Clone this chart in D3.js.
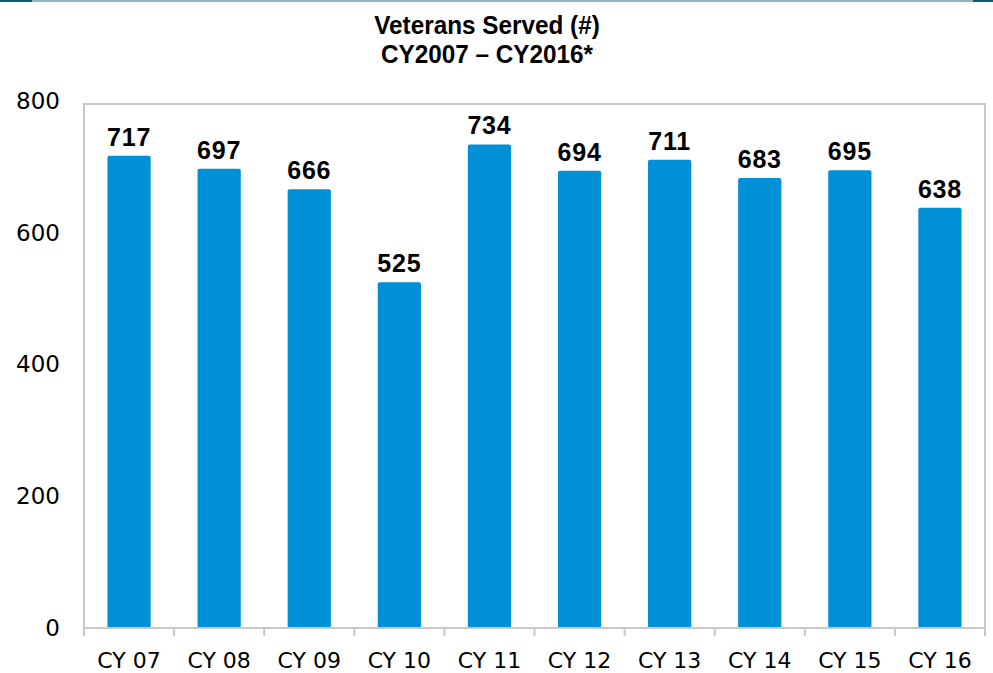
<!DOCTYPE html>
<html>
<head>
<meta charset="utf-8">
<script src="https://cdn.jsdelivr.net/npm/d3@7"></script>
<style>
  body { margin: 0; background: #fff; }
  svg { display: block; }
</style>
</head>
<body>
<div id="chart"></div>
<script>
// values
const years = ["CY 07", "CY 08", "CY 09", "CY 10", "CY 11", "CY 12", "CY 13", "CY 14", "CY 15", "CY 16"];
const served = [717, 697, 666, 525, 734, 694, 711, 683, 695, 638];
const yTicks = [0, 200, 400, 600, 800];
const titleLines = ["Veterans Served (#)", "CY2007 \u2013 CY2016*"];

const W = 993, H = 673;
const margin = { top: 104, right: 8, bottom: 45, left: 84 };
const width = W - margin.left - margin.right;
const height = H - margin.top - margin.bottom;

const svg = d3.select("#chart").append("svg")
  .attr("width", W)
  .attr("height", H);

// thin banner line along the very top
svg.append("rect").attr("x", 0).attr("y", 0).attr("width", W).attr("height", 2).attr("fill", "#8fb3c0");
svg.append("rect").attr("x", 0).attr("y", 0).attr("width", 32).attr("height", 2).attr("fill", "#0d5a72");
svg.append("rect").attr("x", 973).attr("y", 0).attr("width", 20).attr("height", 2).attr("fill", "#0d5a72");

// title (squeezed a bit horizontally to look like a condensed face)
svg.append("g")
  .attr("transform", "translate(487,0) scale(0.935,1)")
  .selectAll("text")
  .data(titleLines)
  .join("text")
  .attr("x", 0)
  .attr("y", (d, i) => 34 + i * 29)
  .attr("text-anchor", "middle")
  .attr("font-family", "'Liberation Sans', Arial, sans-serif")
  .attr("font-weight", "bold")
  .attr("font-size", 26)
  .attr("fill", "#000")
  .text((d) => d);

const g = svg.append("g")
  .attr("transform", "translate(" + margin.left + "," + margin.top + ")");

const x = d3.scaleBand().domain(years).range([0, width]).paddingInner(0.52).paddingOuter(0.26);
const band = d3.scaleBand().domain(years).range([0, width]);
const y = d3.scaleLinear().domain([0, 800]).range([height, -3]);

// plot area frame (top, left, right)
g.append("path")
  .attr("d", `M0,${height}V0H${width}V${height}`)
  .attr("fill", "none")
  .attr("stroke", "#c8c8c8")
  .attr("stroke-width", 2);

// y axis labels
g.append("g")
  .call(d3.axisLeft(y).tickValues(yTicks).tickSize(0).tickPadding(24))
  .call((a) => a.select(".domain").remove())
  .call((a) => a.selectAll("text")
    .attr("font-family", "'DejaVu Sans', sans-serif")
    .attr("font-size", 23)
    .attr("fill", "#000"));

// bars
g.append("g")
  .selectAll("rect")
  .data(served)
  .join("rect")
  .attr("x", (d, i) => x(years[i]))
  .attr("y", (d) => y(d))
  .attr("width", x.bandwidth())
  .attr("height", (d) => height - y(d))
  .attr("rx", 2)
  .attr("fill", "#0090d8");

// value labels
g.append("g")
  .selectAll("text")
  .data(served)
  .join("text")
  .attr("x", (d, i) => x(years[i]) + x.bandwidth() / 2)
  .attr("y", (d) => y(d) - 10)
  .attr("text-anchor", "middle")
  .attr("font-family", "'Liberation Sans', Arial, sans-serif")
  .attr("font-weight", "bold")
  .attr("font-size", 25)
  .attr("letter-spacing", 0.8)
  .attr("fill", "#000")
  .text((d) => d);

// x axis: ticks at category boundaries
const xAxis = g.append("g").attr("transform", "translate(0," + height + ")");
xAxis.append("line")
  .attr("x1", 0).attr("x2", width)
  .attr("stroke", "#c8c8c8").attr("stroke-width", 2);
xAxis.selectAll("line.tick")
  .data(years.concat(["end"]))
  .join("line")
  .attr("class", "tick")
  .attr("x1", (d, i) => i * band.step())
  .attr("x2", (d, i) => i * band.step())
  .attr("y1", 0).attr("y2", 8)
  .attr("stroke", "#c8c8c8").attr("stroke-width", 2);
xAxis.selectAll("text")
  .data(years)
  .join("text")
  .attr("x", (d) => band(d) + band.bandwidth() / 2)
  .attr("y", 40)
  .attr("text-anchor", "middle")
  .attr("font-family", "'DejaVu Sans', sans-serif")
  .attr("font-size", 22)
  .attr("fill", "#000")
  .text((d) => d);
</script>
</body>
</html>
